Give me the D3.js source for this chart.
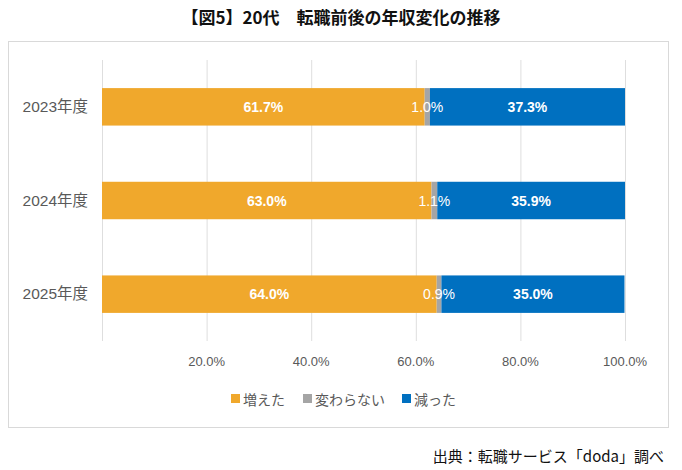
<!DOCTYPE html>
<html>
<head>
<meta charset="utf-8">
<script src="https://cdn.jsdelivr.net/npm/d3@7"></script>
<style>
  body { margin: 0; background: #fff; }
  svg { font-family: "Noto Sans CJK JP", "Noto Sans", sans-serif; }
</style>
</head>
<body>
<div id="chart"></div>
<script>
// data
const years = ["2023年度", "2024年度", "2025年度"];
const increased = [61.7, 63.0, 64.0];
const unchanged = [1.0, 1.1, 0.9];
const decreased = [37.3, 35.9, 35.0];
const seriesNames = ["増えた", "変わらない", "減った"];
const seriesColors = ["#F0A82C", "#A5A5A5", "#0070C0"];
const tickValues = [0, 20, 40, 60, 80, 100];

const width = 682, height = 470;
const svg = d3.select("#chart").append("svg")
    .attr("width", width)
    .attr("height", height);

// title
svg.append("text")
    .attr("x", 341)
    .attr("y", 24)
    .attr("text-anchor", "middle")
    .attr("font-size", 17)
    .attr("font-weight", "bold")
    .attr("fill", "#111")
    .text("【図5】20代　転職前後の年収変化の推移");

// chart frame
svg.append("rect")
    .attr("x", 8.5).attr("y", 41.5)
    .attr("width", 660).attr("height", 386)
    .attr("fill", "none")
    .attr("stroke", "#d9d9d9");

const x = d3.scaleLinear().domain([0, 100]).range([102, 625]);
const y = d3.scaleBand().domain(years).range([60, 341]).paddingInner(0.6).paddingOuter(0.3);

// gridlines
svg.append("g")
    .selectAll("line")
    .data(tickValues)
    .join("line")
    .attr("x1", d => x(d) + 0.5).attr("x2", d => x(d) + 0.5)
    .attr("y1", 60).attr("y2", 341)
    .attr("stroke", "#dedede");

// tick labels
svg.append("g")
    .selectAll("text")
    .data(tickValues.filter(d => d > 0))
    .join("text")
    .attr("x", d => x(d))
    .attr("y", 366)
    .attr("text-anchor", "middle")
    .attr("font-size", 13)
    .attr("font-family", "Liberation Sans, Arial, sans-serif")
    .attr("fill", "#595959")
    .text(d => d.toFixed(1) + "%");

// year labels
svg.append("g")
    .selectAll("text")
    .data(years)
    .join("text")
    .attr("x", 88)
    .attr("y", d => y(d) + y.bandwidth() / 2 + 5)
    .attr("text-anchor", "end")
    .attr("font-size", 15.5)
    .attr("font-family", "Liberation Sans, 'Noto Sans CJK JP', sans-serif")
    .attr("fill", "#595959")
    .text(d => d);

// stacked data
const rows = years.map((yr, i) => ({ year: yr, s0: increased[i], s1: unchanged[i], s2: decreased[i] }));
const stack = d3.stack().keys(["s0", "s1", "s2"]);
const stacked = stack(rows);

svg.append("g")
    .selectAll("g")
    .data(stacked)
    .join("g")
    .attr("fill", (d, i) => seriesColors[i])
    .selectAll("rect")
    .data(d => d)
    .join("rect")
    .attr("x", d => x(d[0]))
    .attr("y", d => y(d.data.year))
    .attr("width", d => x(d[1]) - x(d[0]))
    .attr("height", y.bandwidth());

// value labels, drawn on top of all bars
const labelData = stacked.flatMap((s, k) => s.map(v => ({ v: v, k: k })));
svg.append("g")
    .selectAll("text")
    .data(labelData)
    .join("text")
    .attr("x", d => (x(d.v[0]) + x(d.v[1])) / 2)
    .attr("y", d => y(d.v.data.year) + y.bandwidth() / 2 + 5)
    .attr("text-anchor", "middle")
    .attr("font-size", 14)
    .attr("font-family", "Liberation Sans, Arial, sans-serif")
    .attr("font-weight", d => d.k === 1 ? "normal" : "bold")
    .attr("fill", "#fff")
    .text(d => (d.v[1] - d.v[0]).toFixed(1) + "%");

// legend
const legendX = [231, 303, 402];
const legend = svg.append("g")
    .selectAll("g")
    .data(seriesNames)
    .join("g")
    .attr("transform", (d, i) => `translate(${legendX[i]},400)`);

legend.append("rect")
    .attr("x", 0).attr("y", -6)
    .attr("width", 9).attr("height", 9)
    .attr("fill", (d, i) => seriesColors[i]);

legend.append("text")
    .attr("x", 12)
    .attr("y", 5)
    .attr("font-size", 14)
    .attr("fill", "#595959")
    .text(d => d);

// source
svg.append("text")
    .attr("x", 664)
    .attr("y", 462)
    .attr("text-anchor", "end")
    .attr("font-size", 15)
    .attr("fill", "#111")
    .text("出典：転職サービス「doda」調べ");
</script>
</body>
</html>
